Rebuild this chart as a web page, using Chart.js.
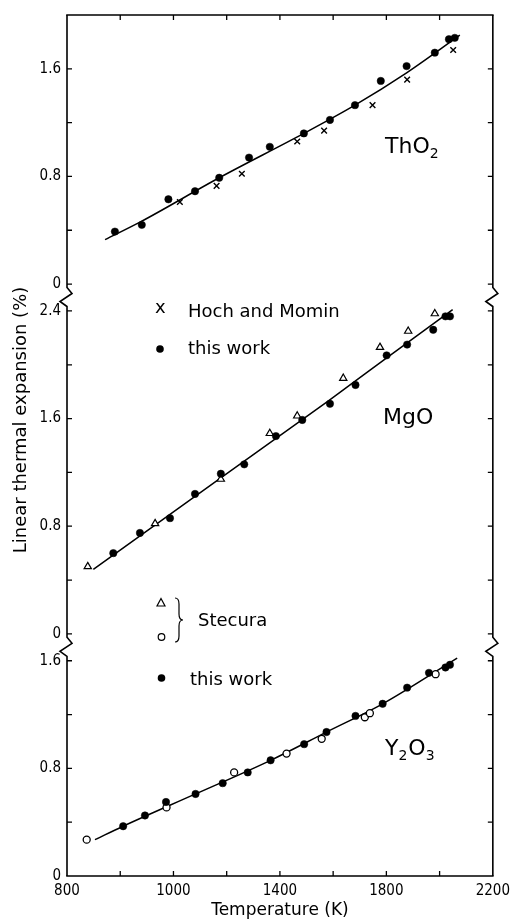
<!DOCTYPE html>
<html><head><meta charset="utf-8">
<script src="https://cdn.jsdelivr.net/npm/chart.js@4.4.1/dist/chart.umd.min.js"></script>
<style>html,body{margin:0;padding:0;background:#fff}canvas{display:block}</style>
</head><body>
<canvas id="c" width="516" height="922"></canvas>
<script>
// ---------- data: temperature (K) and linear thermal expansion (%) ----------
// ThO2
const thoThisT = [780, 881, 981, 1081, 1172, 1284, 1362, 1490, 1588, 1682, 1779, 1876, 1982, 2035, 2057];
const thoThisV = [0.39, 0.44, 0.63, 0.69, 0.79, 0.94, 1.02, 1.12, 1.22, 1.33, 1.51, 1.62, 1.72, 1.82, 1.83];
const thoHochT = [1024, 1162, 1257, 1465, 1566, 1748, 1878, 2051];
const thoHochV = [0.61, 0.73, 0.82, 1.06, 1.14, 1.33, 1.52, 1.74];
const thoFitT  = [743, 874, 1172, 1490, 1682, 1876, 2076];
const thoFitV  = [0.33, 0.46, 0.79, 1.12, 1.33, 1.57, 1.85];
// MgO
const mgoThisT = [774, 874, 987, 1081, 1178, 1266, 1385, 1484, 1588, 1684, 1801, 1878, 1976, 2022, 2039];
const mgoThisV = [0.60, 0.75, 0.86, 1.04, 1.19, 1.26, 1.47, 1.59, 1.71, 1.85, 2.07, 2.15, 2.26, 2.36, 2.36];
const mgoStecT = [678, 931, 1178, 1362, 1465, 1638, 1776, 1882, 1982];
const mgoStecV = [0.50, 0.82, 1.15, 1.49, 1.62, 1.90, 2.13, 2.25, 2.38];
const mgoFitT  = [699, 1178, 1581, 1814, 2049];
const mgoFitV  = [0.48, 1.16, 1.73, 2.07, 2.41];
// Y2O3
const y2ThisT = [811, 893, 972, 1083, 1185, 1279, 1365, 1491, 1575, 1684, 1786, 1878, 1960, 2022, 2039];
const y2ThisV = [0.37, 0.45, 0.55, 0.61, 0.69, 0.77, 0.86, 0.98, 1.07, 1.19, 1.28, 1.40, 1.51, 1.55, 1.57];
const y2StecT = [674, 974, 1228, 1425, 1557, 1719, 1738, 1985];
const y2StecV = [0.27, 0.51, 0.77, 0.91, 1.02, 1.18, 1.21, 1.50];
const y2FitT  = [705, 811, 1083, 1365, 1575, 1786, 2066];
const y2FitV  = [0.27, 0.37, 0.61, 0.86, 1.07, 1.28, 1.62];

// ---------- tick labels ----------
const xTickValues = [600, 800, 1000, 1200, 1400, 1600, 1800, 2000, 2200];
const xTickLabels = ['800', '', '1000', '', '1400', '', '1800', '', '2200'];
const thoYTicks  = [0, 0.4, 0.8, 1.2, 1.6];
const thoYLabels = ['0', '', '0.8', '', '1.6'];
const mgoYTicks  = [0, 0.4, 0.8, 1.2, 1.6, 2.0, 2.4];
const mgoYLabels = ['0', '', '0.8', '', '1.6', '', '2.4'];
const y2YTicks   = [0, 0.4, 0.8, 1.2, 1.6];
const y2YLabels  = ['0', '', '0.8', '', '1.6'];
const xTitle = 'Temperature (K)';
const yTitle = 'Linear thermal expansion (%)';

// ---------- layout: vertical offsets of the stacked panels ----------
const OFF = { y2: 0, mgo: 1.8, tho: 4.4 };
const Y_MAX = 6.4;
const breaks = [
  (OFF.y2 + y2YTicks[y2YTicks.length - 1] + OFF.mgo) / 2,
  (OFF.mgo + mgoYTicks[mgoYTicks.length - 1] + OFF.tho) / 2
];

const yTickList = [];
y2YTicks.forEach((t, i) => yTickList.push({ v: t + OFF.y2, label: y2YLabels[i] }));
mgoYTicks.forEach((t, i) => yTickList.push({ v: t + OFF.mgo, label: mgoYLabels[i] }));
thoYTicks.forEach((t, i) => yTickList.push({ v: t + OFF.tho, label: thoYLabels[i] }));

const pts = (T, V, off) => T.map((t, i) => ({ x: t, y: V[i] + off }));

const FONT = "'DejaVu Sans', sans-serif";
const TICKFONT = "'DejaVu Sans Condensed', 'DejaVu Sans', sans-serif";

function lineDS(T, V, off) {
  return { type: 'line', data: pts(T, V, off), borderColor: '#000', borderWidth: 1.5,
    pointRadius: 0, fill: false, cubicInterpolationMode: 'monotone', order: 2 };
}
function filledDS(T, V, off) {
  return { type: 'scatter', data: pts(T, V, off), pointStyle: 'circle', pointRadius: 3.7,
    backgroundColor: '#000', borderColor: '#000', borderWidth: 0.5, order: 1 };
}
function crossDS(T, V, off) {
  return { type: 'scatter', data: pts(T, V, off), pointStyle: 'crossRot', pointRadius: 4,
    borderColor: '#000', borderWidth: 1.4, order: 1 };
}
function triDS(T, V, off) {
  return { type: 'scatter', data: pts(T, V, off), pointStyle: 'triangle', pointRadius: 4.2,
    backgroundColor: '#fff', borderColor: '#000', borderWidth: 1.2, order: 1 };
}
function openDS(T, V, off) {
  return { type: 'scatter', data: pts(T, V, off), pointStyle: 'circle', pointRadius: 3.5,
    backgroundColor: '#fff', borderColor: '#000', borderWidth: 1.3, order: 1 };
}

function drawChem(ctx, parts, x, base, size) {
  let cx = x;
  parts.forEach(p => {
    const sub = /^[0-9]$/.test(p);
    ctx.font = (sub ? Math.round(size * 0.62) : size) + 'px ' + FONT;
    ctx.fillText(p, cx, sub ? base + 5 : base);
    cx += ctx.measureText(p).width + (sub ? 1 : 0);
  });
}

const decor = {
  id: 'decor',
  afterDraw(chart) {
    const { ctx, chartArea: a, scales: { x, y } } = chart;
    const L = a.left, R = a.right, T = a.top, B = a.bottom;
    ctx.save();
    ctx.strokeStyle = '#000'; ctx.fillStyle = '#000';
    ctx.lineWidth = 1.6; ctx.lineJoin = 'miter';
    const yb = breaks.map(v => y.getPixelForValue(v)).sort((p, q) => p - q);
    function side(X) {
      ctx.beginPath();
      ctx.moveTo(X, T);
      yb.forEach(c => {
        ctx.lineTo(X, c - 10); ctx.lineTo(X + 5, c - 4); ctx.lineTo(X - 7, c + 4); ctx.lineTo(X, c + 9);
      });
      ctx.lineTo(X, B);
      ctx.stroke();
    }
    side(L); side(R);
    ctx.beginPath(); ctx.moveTo(L - 0.8, T); ctx.lineTo(R + 0.8, T); ctx.moveTo(L - 0.8, B); ctx.lineTo(R + 0.8, B); ctx.stroke();
    // inward ticks
    ctx.lineWidth = 1.3;
    ctx.beginPath();
    yTickList.forEach(t => {
      if (t.v <= 0 || t.v >= Y_MAX) return;
      const py = y.getPixelForValue(t.v);
      ctx.moveTo(L, py); ctx.lineTo(L + 5, py);
      ctx.moveTo(R, py); ctx.lineTo(R - 5, py);
    });
    xTickValues.forEach(v => {
      if (v <= x.min || v >= x.max) return;
      const px = x.getPixelForValue(v);
      ctx.moveTo(px, B); ctx.lineTo(px, B - 5);
      ctx.moveTo(px, T); ctx.lineTo(px, T + 5);
    });
    ctx.stroke();

    // panel labels
    ctx.textAlign = 'left'; ctx.textBaseline = 'alphabetic';
    drawChem(ctx, ['ThO', '2'], 385, 153, 22);
    drawChem(ctx, ['MgO'], 383, 424, 22);
    drawChem(ctx, ['Y', '2', 'O', '3'], 385, 755, 22);

    // legends
    ctx.font = '18px ' + FONT;
    ctx.fillText('x', 155, 313);
    ctx.fillText('Hoch and Momin', 188, 317);
    ctx.beginPath(); ctx.arc(160, 349, 3.8, 0, Math.PI * 2); ctx.fill();
    ctx.fillText('this work', 188, 354);

    ctx.lineWidth = 1.2;
    ctx.beginPath(); ctx.moveTo(161, 598.5); ctx.lineTo(165, 606); ctx.lineTo(157, 606); ctx.closePath(); ctx.stroke();
    ctx.beginPath(); ctx.arc(161.5, 637, 3.3, 0, Math.PI * 2); ctx.stroke();
    ctx.beginPath();
    ctx.moveTo(175, 598);
    ctx.quadraticCurveTo(179, 598, 179, 604);
    ctx.lineTo(179, 614);
    ctx.quadraticCurveTo(179, 620, 183, 620);
    ctx.quadraticCurveTo(179, 620, 179, 626);
    ctx.lineTo(179, 636);
    ctx.quadraticCurveTo(179, 642, 175, 642);
    ctx.stroke();
    ctx.font = '18px ' + FONT;
    ctx.fillText('Stecura', 198, 626);
    ctx.beginPath(); ctx.arc(161.5, 678, 3.8, 0, Math.PI * 2); ctx.fill();
    ctx.fillText('this work', 190, 685);

    // y axis title
    ctx.save();
    ctx.translate(21, 420); ctx.rotate(-Math.PI / 2);
    ctx.textAlign = 'center'; ctx.textBaseline = 'middle';
    ctx.font = '18px ' + FONT;
    ctx.fillText(yTitle, 0, 0);
    ctx.restore();
    ctx.restore();
  }
};

new Chart(document.getElementById('c'), {
  data: {
    datasets: [
      lineDS(thoFitT, thoFitV, OFF.tho), filledDS(thoThisT, thoThisV, OFF.tho), crossDS(thoHochT, thoHochV, OFF.tho),
      lineDS(mgoFitT, mgoFitV, OFF.mgo), filledDS(mgoThisT, mgoThisV, OFF.mgo), triDS(mgoStecT, mgoStecV, OFF.mgo),
      lineDS(y2FitT, y2FitV, OFF.y2), filledDS(y2ThisT, y2ThisV, OFF.y2), openDS(y2StecT, y2StecV, OFF.y2)
    ]
  },
  options: {
    responsive: false, animation: false, devicePixelRatio: 1,
    layout: { padding: { left: 0, right: 22, top: 11, bottom: 0 } },
    plugins: { legend: { display: false }, tooltip: { enabled: false } },
    scales: {
      x: {
        type: 'linear', min: 600, max: 2200,
        grid: { display: false, drawTicks: false }, border: { display: false },
        afterBuildTicks: s => { s.ticks = xTickValues.map(v => ({ value: v })); },
        afterFit: s => { s.height = 46; },
        ticks: { autoSkip: false, maxRotation: 0, padding: 6, color: '#000',
          font: { family: TICKFONT, size: 15 },
          callback: (v, i) => xTickLabels[i] },
        title: { display: true, text: xTitle, color: '#000', font: { family: FONT, size: 17 }, padding: { top: 0, bottom: 1 } }
      },
      y: {
        type: 'linear', min: 0, max: Y_MAX,
        grid: { display: false, drawTicks: false }, border: { display: false },
        afterBuildTicks: s => { s.ticks = yTickList.map(t => ({ value: t.v })); },
        afterFit: s => { s.width = 67; },
        ticks: { autoSkip: false, padding: 6, color: '#000',
          font: { family: TICKFONT, size: 15 },
          callback: (v, i) => yTickList[i].label }
      }
    }
  },
  plugins: [decor]
});
</script>
</body></html>
